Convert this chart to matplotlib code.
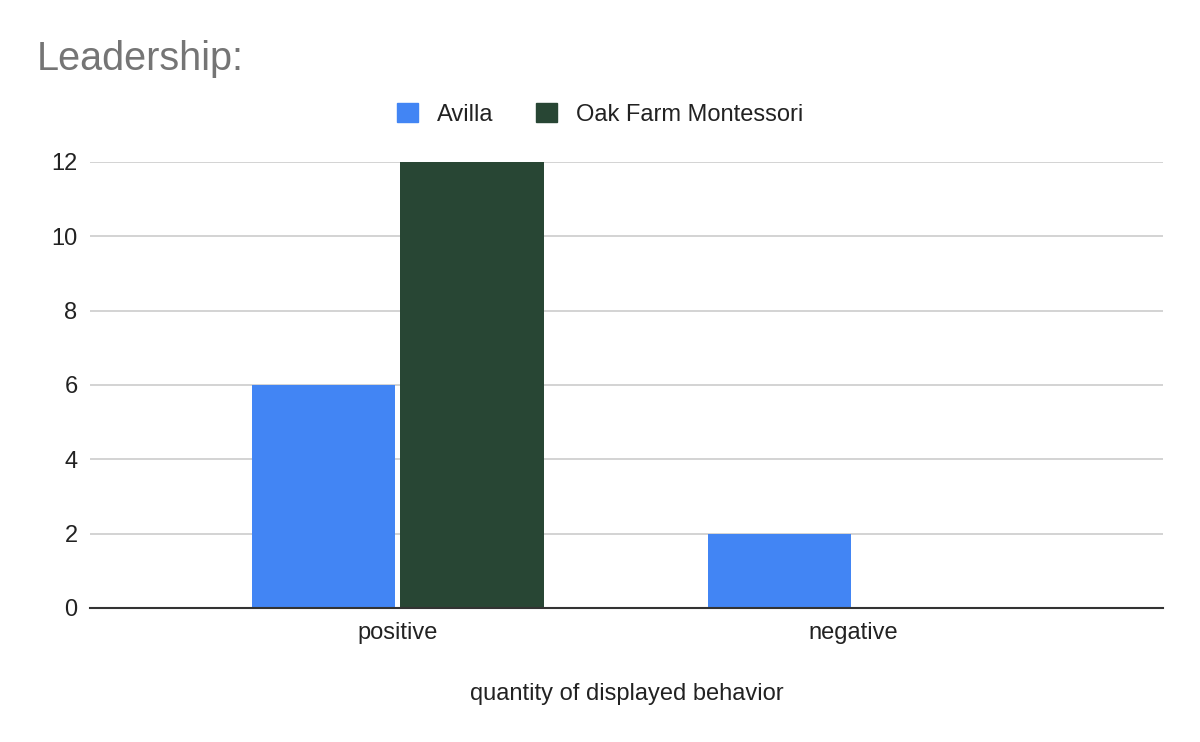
import numpy as np
import matplotlib.pyplot as plt
from matplotlib.patches import Patch

# data
categories = ["positive", "negative"]
avilla = [6, 2]
oak_farm = [12, 0]
y_ticks = [0, 2, 4, 6, 8, 10, 12]

plt.rcParams['font.family'] = ['Liberation Sans', 'DejaVu Sans']

fig = plt.figure(figsize=(12, 7.42), dpi=100)
ax = fig.add_axes([0.075, 0.1806, 0.894, 0.6011])

x = np.arange(len(categories))
w = 0.314
ax.bar(x - 0.163, avilla, width=w, color='#4285f4', label='Avilla')
ax.bar(x + 0.163, oak_farm, width=w, color='#284634', label='Oak Farm Montessori')

ax.set_xlim(-0.675, 1.678)
ax.set_ylim(0, 12)
ax.set_yticks(y_ticks)
ax.set_xticks(x)
ax.set_xticklabels(categories)
ax.tick_params(axis='both', length=0, labelsize=17, colors='#222222')
ax.tick_params(axis='y', pad=9)
ax.tick_params(axis='x', pad=10)
ax.grid(axis='y', color='#cccccc', linewidth=1.2)
ax.set_axisbelow(True)
for s in ['top', 'right', 'left']:
    ax.spines[s].set_visible(False)
ax.spines['bottom'].set_color('#333333')
ax.spines['bottom'].set_linewidth(1.5)
ax.spines['bottom'].set_zorder(5)

ax.set_xlabel("quantity of displayed behavior", fontsize=17, color='#222222', labelpad=28)

fig.text(0.031, 0.921, "Leadership:", fontsize=28.5, color='#757575', va='center', ha='left')

handles = [Patch(color='#4285f4', label='Avilla'),
           Patch(color='#284634', label='Oak Farm Montessori')]
fig.legend(handles=handles, loc='center', bbox_to_anchor=(0.5, 0.846), ncol=2,
           frameon=False, fontsize=17, handlelength=0.9, handleheight=0.9,
           handletextpad=0.8, columnspacing=1.8, labelcolor='#222222')

plt.savefig("out.png")
plt.close()
